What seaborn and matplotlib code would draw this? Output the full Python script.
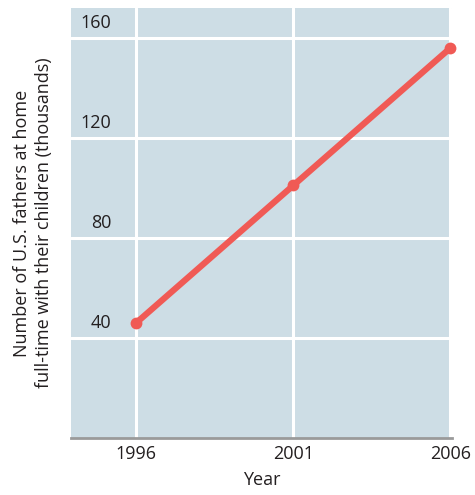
import matplotlib
matplotlib.use("Agg")
import matplotlib.pyplot as plt
import seaborn as sns
import pandas as pd

years = [1996, 2001, 2006]
fathers_thousands = [46, 101, 156]
y_ticks = [40, 80, 120, 160]
x_ticks = [1996, 2001, 2006]

sns.set_theme(style="white")
plt.rcParams["font.family"] = ["Open Sans", "DejaVu Sans"]

bg = "#cddde5"
line_color = "#f05a55"
text_color = "#231f20"

fig = plt.figure(figsize=(4.75, 4.95), dpi=100)
ax = fig.add_axes([0.1495, 0.1152, 0.802, 0.8687])
ax.set_facecolor(bg)

df = pd.DataFrame({"Year": years, "Fathers": fathers_thousands})

ax.set_xlim(1993.93, 2006.05)
ax.set_ylim(0, 172)

for y in y_ticks:
    ax.axhline(y, color="white", lw=2.2, zorder=1)
for x in x_ticks:
    ax.axvline(x, color="white", lw=2.2, zorder=1)

sns.lineplot(data=df, x="Year", y="Fathers", ax=ax, color=line_color,
             lw=4.5, marker="o", markersize=8.5, markeredgewidth=0,
             zorder=3, clip_on=False, solid_capstyle="round")

# value labels sit inside the plot, just above each grid line
for y in y_ticks:
    ax.text(0.105, y + 2.2, str(y), transform=ax.get_yaxis_transform(),
            ha="right", va="bottom", fontsize=13, color=text_color, zorder=4)

ax.set_yticks([])
ax.set_xticks(x_ticks)
ax.set_xticklabels([str(x) for x in x_ticks], fontsize=13, color=text_color)
ax.tick_params(axis="x", length=0, pad=5)

for side in ["top", "right", "left"]:
    ax.spines[side].set_visible(False)
ax.spines["bottom"].set_color("#9a9a9a")
ax.spines["bottom"].set_linewidth(2)
ax.spines["bottom"].set_zorder(5)

ax.set_xlabel("Year", fontsize=13, color=text_color, labelpad=6)
ax.set_ylabel("Number of U.S. fathers at home\nfull-time with their children (thousands)",
              fontsize=13, color=text_color, labelpad=13, linespacing=1.25)

fig.savefig("out.png", dpi=100)
